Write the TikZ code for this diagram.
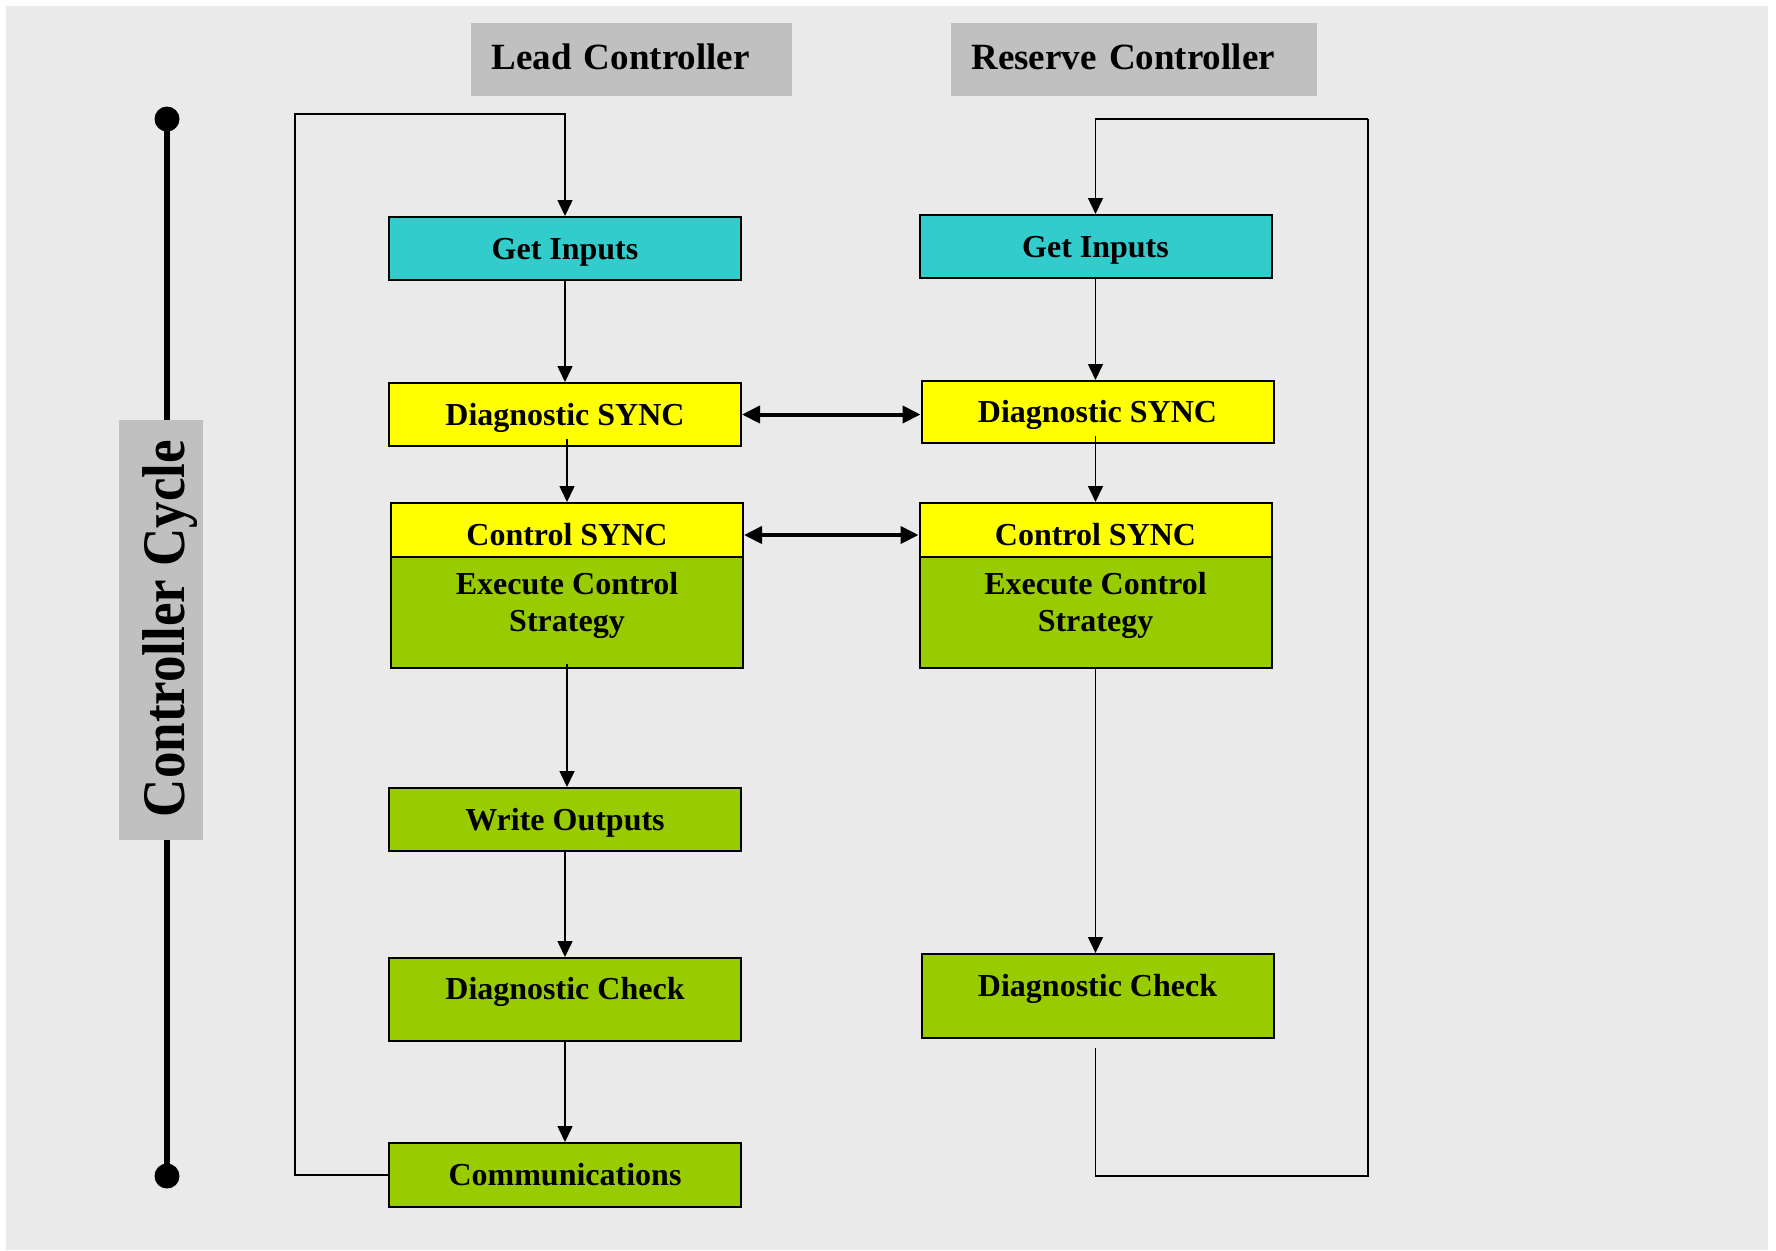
\documentclass[tikz,border=0pt]{standalone}
\usepackage{fontspec}
\setmainfont{Liberation Serif}
\usepackage{graphicx}
\usetikzlibrary{arrows.meta,calc}
\definecolor{bgc}{HTML}{EAEAEA}
\definecolor{hdrc}{HTML}{C0C0C0}
\definecolor{cyanc}{HTML}{33CCCC}
\definecolor{yelc}{HTML}{FFFF00}
\definecolor{grnc}{HTML}{99CC00}
\begin{document}
\begin{tikzpicture}[x=0.5pt,y=-0.5pt,
  box/.style={draw=black, line width=1pt, minimum width=176pt, inner sep=0pt,
    font=\bfseries\fontsize{16pt}{18.5pt}\selectfont, align=center,
    text height=11.5pt, text depth=1pt},
  hdr/.style={fill=hdrc, inner ysep=0pt, inner xsep=10pt, minimum height=36.5pt,
    font=\bfseries\fontsize{18.5pt}{22pt}\selectfont, align=left,
    text height=12.5pt, text depth=3pt, anchor=north west},
  lbl/.style={font=\bfseries\fontsize{16pt}{18.5pt}\selectfont, align=center, inner sep=0pt},
  arr/.style={line width=0.75pt, -{Triangle[length=8pt,width=7.5pt]}},
  plain/.style={line width=0.75pt},
  sync/.style={line width=2pt, {Triangle[length=9pt,width=8.5pt]}-{Triangle[length=9pt,width=8.5pt]}},
  cycl/.style={line width=3pt},
  dot/.style={circle, fill=black, minimum size=12.5pt, inner sep=0pt}
]
\useasboundingbox (0,0) rectangle (1776,1250);
\fill[bgc] (6,6) rectangle (1768,1250);

% headers
\node[hdr, text width=140.5pt] (hlead) at (471,23) {Lead Controller};
\node[hdr, text width=163pt] (hres) at (951,23) {Reserve Controller};

% controller cycle
\node[fill=hdrc, minimum width=42pt, minimum height=210pt, inner sep=0pt] (cyc) at (161,630) {};
\node[rotate=90, anchor=base, inner sep=0pt, font=\bfseries\fontsize{26.5pt}{30pt}\selectfont] (cyct) at (184,628.5) {\scalebox{1}[1.14]{Controller Cycle}};
\node[dot] (dt) at (167,119) {};
\node[dot] (db) at (167,1176) {};
\draw[cycl] (dt.center) -- (dt.center |- cyc.north);
\draw[cycl] (db.center) -- (db.center |- cyc.south);

% lead column
\node[box, fill=cyanc, minimum height=31.5pt] (gi1) at (565,248.5) {Get Inputs};
\node[box, fill=yelc, minimum height=31.5pt] (ds1) at (565,414.5) {Diagnostic SYNC};
\node[box, fill=yelc, minimum height=27pt, text height=15pt, text depth=0pt] (cs1) at (567,530) {Control SYNC};
\node[box, fill=grnc, minimum height=55.5pt] (ex1) at (567,612.5) {};
\node[lbl, anchor=north] (ex1t) at (567,571.8) {Execute Control\\Strategy};
\node[box, fill=grnc, minimum height=31.5pt] (wo1) at (565,819.5) {Write Outputs};
\node[box, fill=grnc, minimum height=41.5pt, text height=10pt, text depth=10pt] (dc1) at (565,999.5) {Diagnostic Check};
\node[box, fill=grnc, minimum height=32pt] (cm1) at (565,1175) {Communications};

% reserve column
\node[box, fill=cyanc, minimum height=31.5pt] (gi2) at (1095.5,246.5) {Get Inputs};
\node[box, fill=yelc, minimum height=31pt] (ds2) at (1097.5,412) {Diagnostic SYNC};
\node[box, fill=yelc, minimum height=27pt, text height=15pt, text depth=0pt] (cs2) at (1095.5,530) {Control SYNC};
\node[box, fill=grnc, minimum height=55.5pt] (ex2) at (1095.5,612.5) {};
\node[lbl, anchor=north] (ex2t) at (1095.5,571.8) {Execute Control\\Strategy};
\node[box, fill=grnc, minimum height=42pt, text height=10pt, text depth=9.5pt] (dc2) at (1097.5,996) {Diagnostic Check};

% lead connectors
\draw[arr] (gi1.south) -- (ds1.north);
\draw[arr] ([yshift=4pt]ds1.south -| cs1.north) -- (cs1.north);
\draw[arr] ([yshift=2.5pt]ex1.south) -- (ex1.south |- wo1.north);
\draw[arr] (wo1.south) -- (dc1.north);
\draw[arr] (dc1.south) -- (cm1.north);
\coordinate (ltop) at (295,114);
\draw[arr] (cm1.west) -| (ltop) -| (gi1.north);

% reserve connectors
\draw[arr] (gi2.south) -- (gi2.south |- ds2.north);
\draw[arr] ([yshift=4pt]ds2.south -| cs2.north) -- (cs2.north);
\draw[arr] (ex2.south) -- (ex2.south |- dc2.north);
\coordinate (rbot) at (1368,1176);
\coordinate (rtop) at (1368,119);
\draw[plain] ([yshift=-4.5pt]dc2.south -| gi2.south) |- (rbot) -- (rtop);
\draw[arr] (rtop) -| (gi2.north);

% sync arrows
\draw[sync] (ds1.east) -- (ds1.east -| ds2.west);
\draw[sync] ([yshift=-2.5pt]cs1.east) -- ([yshift=-2.5pt]cs2.west);
\end{tikzpicture}
\end{document}
